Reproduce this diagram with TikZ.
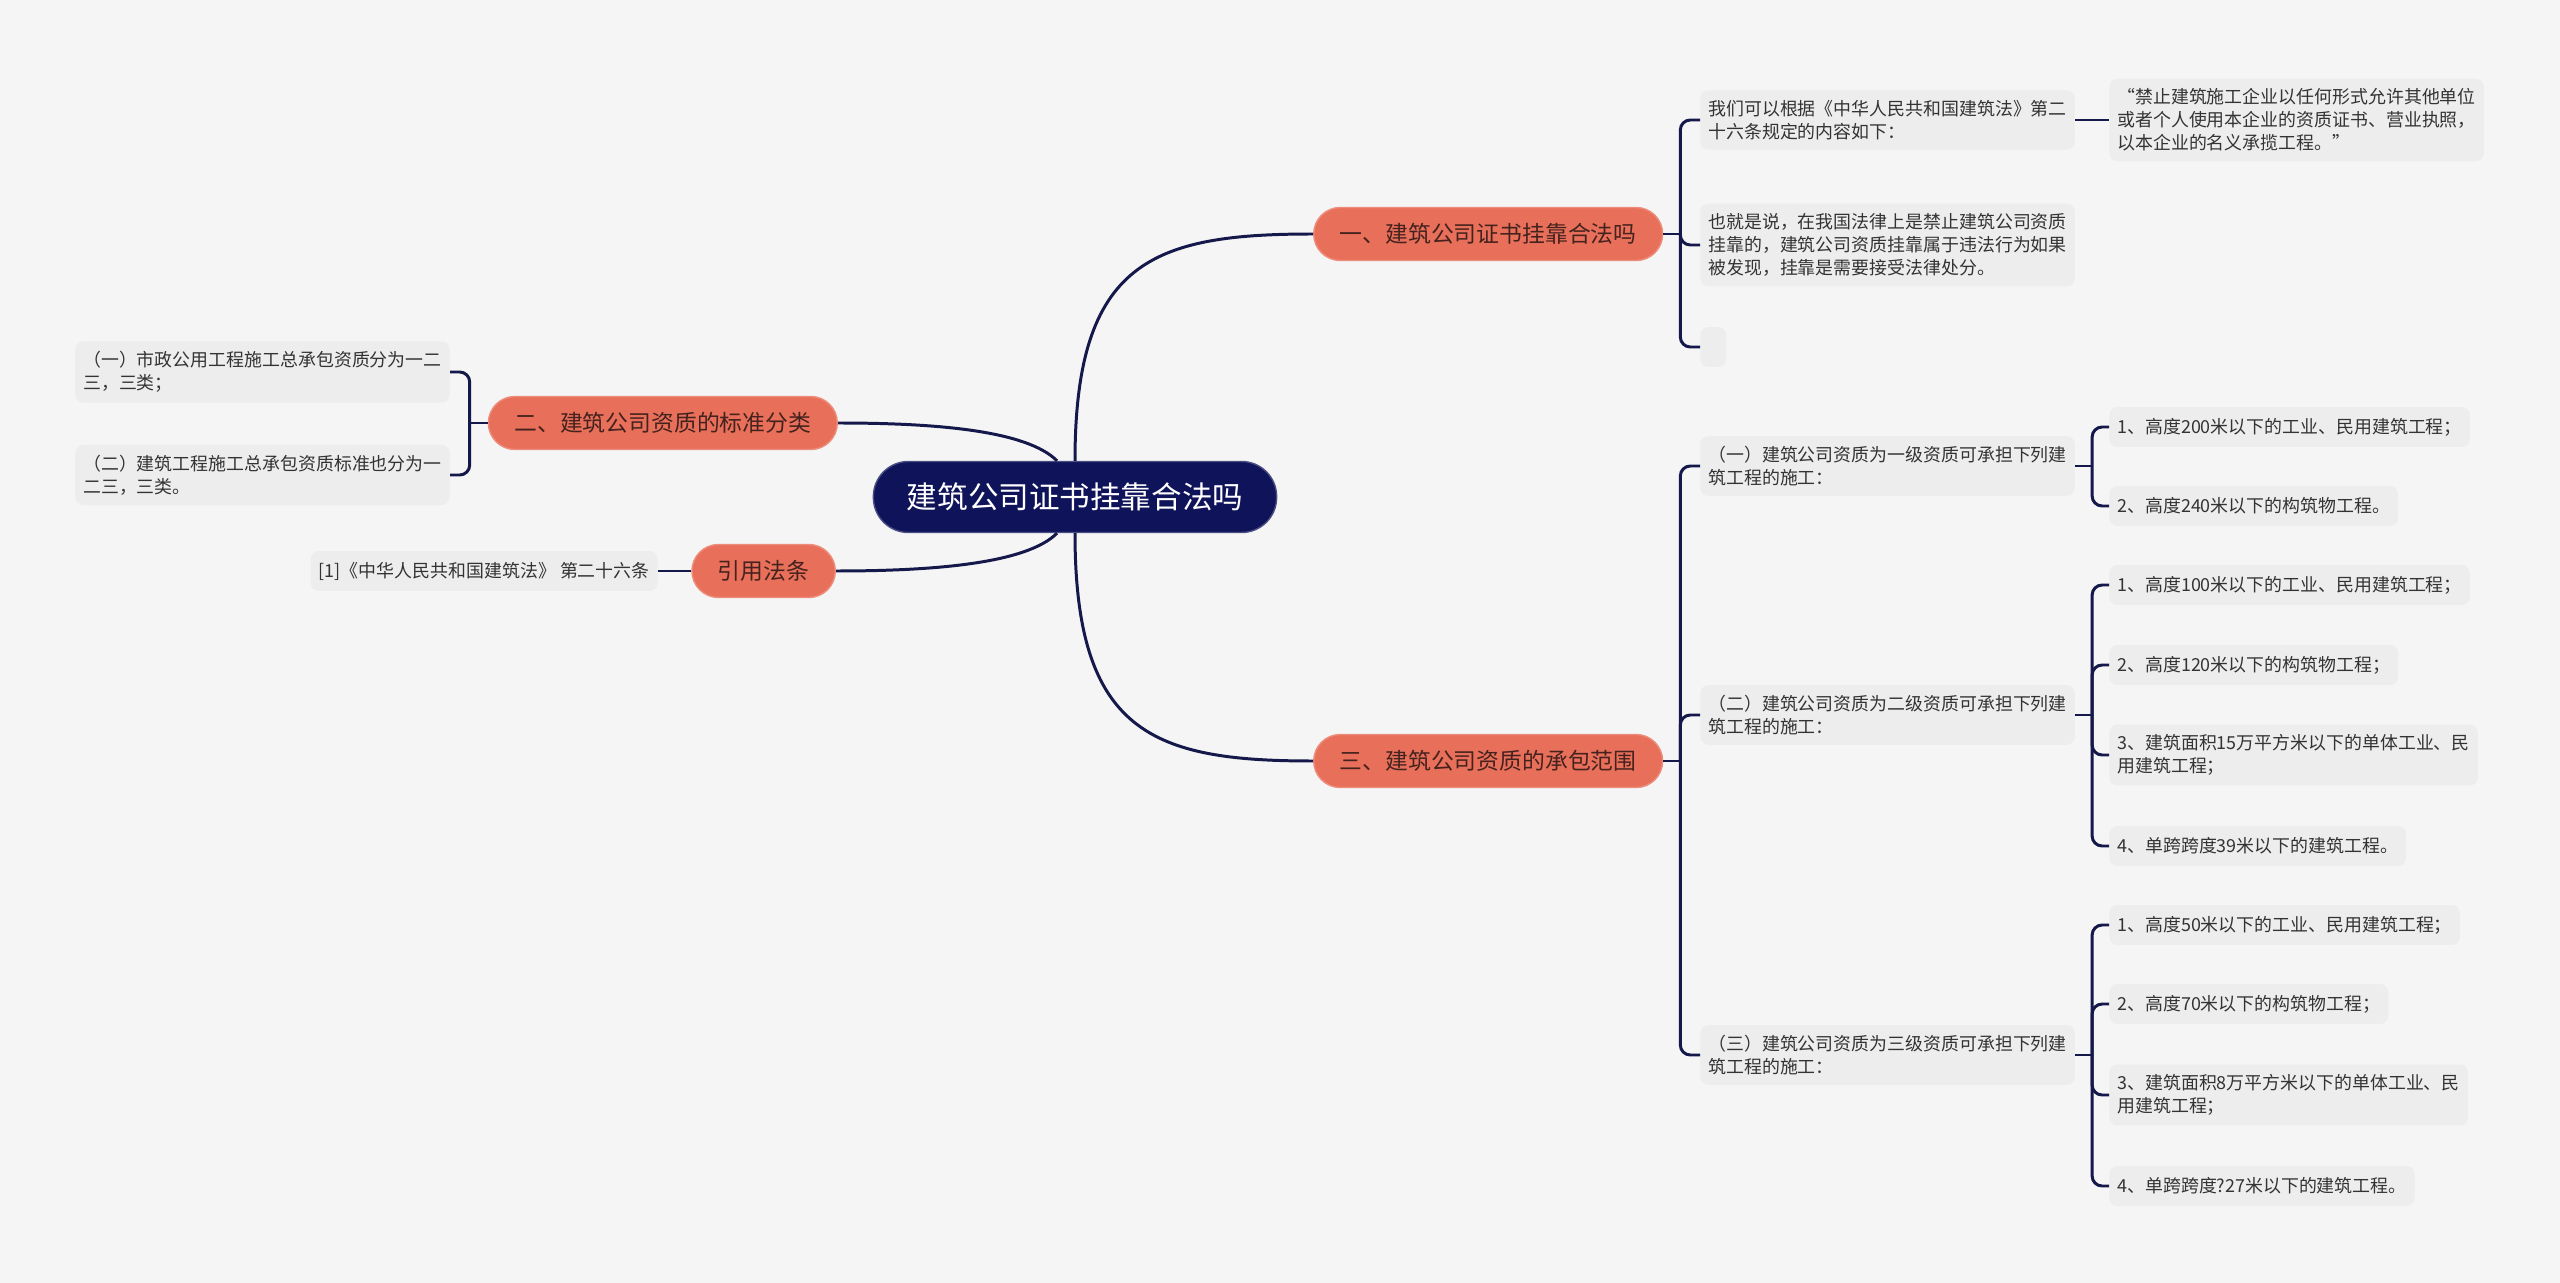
\documentclass[tikz,border=0pt]{standalone}
\usepackage{fontspec}
\setmainfont{Noto Sans CJK SC}
\definecolor{paper}{HTML}{F5F5F5}
\definecolor{leafbg}{HTML}{EDEDED}
\definecolor{leaftext}{HTML}{333333}
\definecolor{navy}{HTML}{0F1359}
\definecolor{coral}{HTML}{E8705A}
\definecolor{branchtext}{HTML}{45221E}
\definecolor{linecol}{HTML}{15184A}
\begin{document}
\begin{tikzpicture}[
    x=0.02cm, y=-0.02cm,
    topic/.style={
      rectangle,
      rounded corners=0.7cm,
      fill=navy,
      draw=navy!75!white,
      line width=0.8pt,
      text=white,
      font=\fontsize{17.4}{21}\selectfont,
      minimum height=1.42cm,
      inner xsep=0.67cm
    },
    branch/.style={
      rectangle,
      rounded corners=0.53cm,
      fill=coral,
      draw=coral!80!white,
      line width=0.8pt,
      text=branchtext,
      font=\fontsize{13}{16}\selectfont,
      minimum height=1.06cm,
      inner xsep=0.52cm
    },
    leaf/.style={
      rectangle,
      rounded corners=0.16cm,
      fill=leafbg,
      text=leaftext,
      font=\fontsize{10.2}{13}\selectfont,
      align=left,
      minimum height=0.8cm,
      inner xsep=0.16cm,
      inner ysep=0.2cm
    },
    link/.style={draw=linecol, line width=1.7pt},
    bracket/.style={link, rounded corners=0.2cm}
  ]

  \fill[paper] (0,0) rectangle (2560,1283);
  \useasboundingbox (0,0) rectangle (2560,1283);

  \node[topic] (root) at (1075,497) {建筑公司证书挂靠合法吗};

  \node[branch, anchor=west] (b1) at (1313,234) {一、建筑公司证书挂靠合法吗};
  \node[branch, anchor=east] (b2) at (838,423) {二、建筑公司资质的标准分类};
  \node[branch, anchor=east] (cite) at (836,571) {引用法条};
  \node[branch, anchor=west] (b3) at (1313,761) {三、建筑公司资质的承包范围};

  \node[leaf, anchor=west] (c11) at (1700,120) {我们可以根据《中华人民共和国建筑法》第二\\十六条规定的内容如下：};
  \node[leaf, anchor=west] (q11) at (2109,120) {“禁止建筑施工企业以任何形式允许其他单位\\或者个人使用本企业的资质证书、营业执照，\\以本企业的名义承揽工程。”};
  \node[leaf, anchor=west] (c12) at (1700,245) {也就是说，在我国法律上是禁止建筑公司资质\\挂靠的，建筑公司资质挂靠属于违法行为如果\\被发现，挂靠是需要接受法律处分。};
  \node[leaf, anchor=west, minimum width=0.52cm] (c13) at (1700,347) {};

  \node[leaf, anchor=east] (l21) at (450,372) {（一）市政公用工程施工总承包资质分为一二\\三，三类；};
  \node[leaf, anchor=east] (l22) at (450,475) {（二）建筑工程施工总承包资质标准也分为一\\二三，三类。};

  \node[leaf, anchor=east] (r1) at (658,571) {[1]《中华人民共和国建筑法》 第二十六条};

  \node[leaf, anchor=west] (c31) at (1700,466) {（一）建筑公司资质为一级资质可承担下列建\\筑工程的施工：};
  \node[leaf, anchor=west] (c32) at (1700,715) {（二）建筑公司资质为二级资质可承担下列建\\筑工程的施工：};
  \node[leaf, anchor=west] (c33) at (1700,1055) {（三）建筑公司资质为三级资质可承担下列建\\筑工程的施工：};

  \node[leaf, anchor=west] (d311) at (2109,427) {1、高度200米以下的工业、民用建筑工程；};
  \node[leaf, anchor=west] (d312) at (2109,506) {2、高度240米以下的构筑物工程。};

  \node[leaf, anchor=west] (d321) at (2109,585) {1、高度100米以下的工业、民用建筑工程；};
  \node[leaf, anchor=west] (d322) at (2109,665) {2、高度120米以下的构筑物工程；};
  \node[leaf, anchor=west] (d323) at (2109,755) {3、建筑面积15万平方米以下的单体工业、民\\用建筑工程；};
  \node[leaf, anchor=west] (d324) at (2109,846) {4、单跨跨度39米以下的建筑工程。};

  \node[leaf, anchor=west] (d331) at (2109,925) {1、高度50米以下的工业、民用建筑工程；};
  \node[leaf, anchor=west] (d332) at (2109,1004) {2、高度70米以下的构筑物工程；};
  \node[leaf, anchor=west] (d333) at (2109,1095) {3、建筑面积8万平方米以下的单体工业、民\\用建筑工程；};
  \node[leaf, anchor=west] (d334) at (2109,1186) {4、单跨跨度?27米以下的建筑工程。};

  \draw[link] (root.north) .. controls +(0,-200) and +(-160,0) .. (b1.west);
  \draw[link] (root.south) .. controls +(0,200) and +(-160,0) .. (b3.west);
  \draw[link] ([xshift=-0.36cm]root.north) .. controls +(-30,-30) and +(100,0) .. (b2.east);
  \draw[link] ([xshift=-0.36cm]root.south) .. controls +(-30,30) and +(100,0) .. (cite.east);

  \draw[link] (b1.east) -- ++(17,0) coordinate (j1);
  \foreach \c in {c11,c12,c13}
    \draw[bracket] (j1) |- (\c.west);
  \draw[link] (c11.east) -- (q11.west);

  \draw[link] (b2.west) -- ++(-18,0) coordinate (j2);
  \foreach \c in {l21,l22}
    \draw[bracket] (j2) |- (\c.east);

  \draw[link] (cite.west) -- (r1.east);

  \draw[link] (b3.east) -- ++(17,0) coordinate (j3);
  \foreach \c in {c31,c32,c33}
    \draw[bracket] (j3) |- (\c.west);

  \draw[link] (c31.east) -- ++(17,0) coordinate (j31);
  \foreach \c in {d311,d312}
    \draw[bracket] (j31) |- (\c.west);

  \draw[link] (c32.east) -- ++(17,0) coordinate (j32);
  \foreach \c in {d321,d322,d323,d324}
    \draw[bracket] (j32) |- (\c.west);

  \draw[link] (c33.east) -- ++(17,0) coordinate (j33);
  \foreach \c in {d331,d332,d333,d334}
    \draw[bracket] (j33) |- (\c.west);

\end{tikzpicture}
\end{document}
